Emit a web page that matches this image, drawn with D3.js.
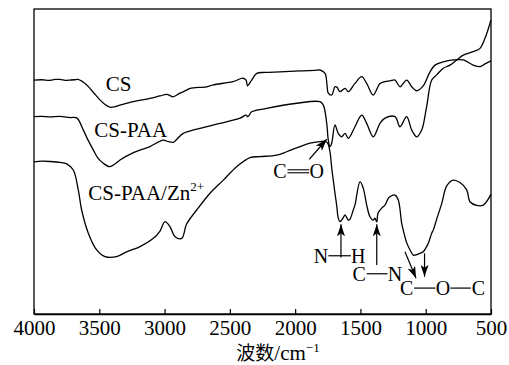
<!DOCTYPE html>
<html>
<head>
<meta charset="utf-8">
<script src="https://cdn.jsdelivr.net/npm/d3@7"></script>
<style>
  html, body { margin: 0; padding: 0; background: #fff; }
  svg { display: block; }
  text { font-family: "Liberation Serif", "Times New Roman", "Noto Sans CJK SC", serif; fill: #000; }
</style>
</head>
<body>
<svg id="chart" width="509" height="365"></svg>
<script>
// ---------------- data (wavenumber cm^-1, transmittance a.u.) ----------------
const xTicks = [4000, 3500, 3000, 2500, 2000, 1500, 1000, 500];
const xTickLabels = ["4000", "3500", "3000", "2500", "2000", "1500", "1000", "500"];
const seriesNames = ["CS", "CS-PAA", "CS-PAA/Zn"];

const csData = [
  [4000,76.7],[3940,76.8],[3877,76.6],[3840,76.9],[3801,76.9],[3760,76.6],[3724,76.7],[3690,76.8],[3663,76.9],
  [3596,75.1],[3548,72.8],[3495,70.2],[3456,68.7],[3418,67.8],[3380,68.0],[3341,68.5],
  [3242,69.6],[3112,70.7],[3035,71.5],[2984,72.0],[2958,71.6],[2936,71.2],[2882,72.4],
  [2831,73.4],[2805,74.0],[2677,74.5],[2629,75.1],[2476,76.2],[2399,77.3],[2376,76.7],
  [2365,74.8],[2353,75.4],[2333,76.7],[2294,78.9],[2231,79.2],[2116,79.4],[1963,79.7],
  [1850,79.9],[1810,80.0],[1771,78.9],[1756,75.1],[1746,72.4],[1720,71.8],[1695,74.5],
  [1680,74.4],[1657,72.9],[1618,74.0],[1593,72.9],[1542,75.6],[1490,77.8],[1452,75.6],
  [1402,71.8],[1350,75.6],[1312,76.2],[1274,76.4],[1235,76.7],[1197,74.5],[1146,76.7],
  [1107,74.5],[1069,73.2],[1019,74.8],[967,79.4],[929,81.6],[865,82.7],[789,83.3],
  [712,83.3],[636,81.6],[584,81.1],[546,82.0],[500,83.0]
];

const csPaaData = [
  [4000,64.7],[3940,64.8],[3877,64.6],[3801,64.8],[3724,64.4],[3673,64.3],[3622,60.3],
  [3586,57.0],[3546,53.8],[3510,51.1],[3469,49.4],[3418,48.3],[3380,49.2],[3341,50.5],
  [3242,52.8],[3112,54.9],[3010,57.0],[2971,56.5],[2933,56.3],[2897,57.7],[2857,59.2],
  [2729,60.9],[2576,62.5],[2422,64.2],[2376,65.2],[2363,64.7],[2353,65.1],[2333,66.3],
  [2218,67.4],[1988,69.1],[1810,69.6],[1784,68.5],[1758,62.5],[1746,57.0],[1733,54.9],
  [1720,56.0],[1695,62.0],[1670,59.2],[1644,58.1],[1618,59.2],[1593,57.6],[1542,61.4],
  [1490,65.2],[1452,62.5],[1402,58.1],[1350,62.5],[1312,64.2],[1235,64.7],[1197,61.4],
  [1146,64.7],[1107,60.3],[1069,58.1],[1031,60.3],[993,68.0],[954,76.7],[916,78.4],
  [865,80.6],[814,81.6],[763,83.3],[712,84.9],[636,86.0],[584,87.1],[546,90.4],[500,96.4]
];

const csPaaZnData = [
  [4000,49.9],[3940,50.1],[3877,50.0],[3801,49.7],[3750,49.2],[3699,47.2],[3661,40.7],
  [3635,34.1],[3584,26.5],[3520,21.0],[3456,18.8],[3367,18.8],[3290,20.4],[3188,22.1],
  [3086,24.8],[3035,27.2],[2997,30.3],[2958,28.6],[2920,25.3],[2869,24.8],[2831,29.5],
  [2754,34.1],[2652,39.6],[2550,43.9],[2448,48.3],[2346,51.3],[2269,51.6],[2141,52.1],
  [2065,53.2],[1963,54.9],[1886,56.0],[1810,56.5],[1771,56.6],[1752,56.1],[1733,53.1],
  [1720,47.9],[1708,43.9],[1695,39.6],[1682,35.7],[1670,31.5],[1657,30.3],[1644,30.8],
  [1631,31.6],[1618,32.5],[1593,30.8],[1580,31.1],[1555,34.1],[1542,35.7],[1503,43.4],
  [1478,41.2],[1452,35.7],[1427,31.9],[1402,30.8],[1389,31.4],[1375,30.2],[1365,33.1],
  [1337,34.7],[1312,35.7],[1287,37.9],[1266,38.7],[1235,39.0],[1210,37.4],[1184,29.7],
  [1172,27.5],[1146,23.4],[1120,21.0],[1095,19.3],[1067,19.5],[1044,19.9],[1019,20.4],
  [993,22.1],[980,23.2],[954,26.5],[942,27.5],[916,31.1],[878,36.1],[839,42.0],
  [789,43.9],[738,43.1],[686,40.7],[661,36.8],[610,35.6],[559,35.7],[500,39.3]
];

// annotation groups: atoms with wavenumber centres, baseline in transmittance units
const bondGroups = [
  { atoms: ["C", "O"], wn: [2116, 1835], t: 44.5, bond: "double" },
  { atoms: ["N", "H"], wn: [1803, 1516], t: 16.8, bond: "single" },
  { atoms: ["C", "N"], wn: [1509, 1235], t: 10.9, bond: "single" },
  { atoms: ["C", "O", "C"], wn: [1146, 868, 597], t: 6.2, bond: "single" }
];
// arrows: [wn0, t0] -> [wn1, t1] (tip)
const arrows = [
  [[1892, 50.7], [1758, 57.3]],
  [[1649, 18.5], [1649, 29.4]],
  [[1375, 16.1], [1375, 29.4]],
  [[1159, 20.4], [1074, 11.7]],
  [[1009, 19.9], [1009, 12.2]]
];
// series label anchors [wn, t]
const labelPos = [[3450, 73.2], [3538, 58.1], [3584, 37.4]];

// ---------------- drawing ----------------
const W = 509, H = 365;
const margin = { left: 34, top: 9, right: 18, bottom: 51 };
const svg = d3.select("#chart");
const x = d3.scaleLinear().domain([4000, 500]).range([margin.left, W - margin.right]);
const y = d3.scaleLinear().domain([0, 100]).range([H - margin.bottom, margin.top]);

const defs = svg.append("defs");
defs.append("marker")
  .attr("id", "ah").attr("viewBox", "0 0 12 8")
  .attr("refX", 12).attr("refY", 4)
  .attr("markerWidth", 12).attr("markerHeight", 8)
  .attr("markerUnits", "userSpaceOnUse")
  .attr("orient", "auto")
  .append("path").attr("d", "M0,0 L12,4 L0,8 L3,4 Z").attr("fill", "#000");

// frame
svg.append("rect")
  .attr("x", x(4000)).attr("y", y(100))
  .attr("width", x(500) - x(4000)).attr("height", y(0) - y(100))
  .attr("fill", "none").attr("stroke", "#000").attr("stroke-width", 1.3);

// bottom axis
const axis = d3.axisBottom(x)
  .tickValues(xTicks)
  .tickFormat((d, i) => xTickLabels[i])
  .tickSize(-5).tickSizeOuter(0).tickPadding(6);
const gx = svg.append("g").attr("transform", `translate(0,${y(0)})`).call(axis);
gx.select(".domain").attr("stroke", "#000").attr("stroke-width", 1.3);
gx.selectAll(".tick line").attr("stroke", "#000").attr("stroke-width", 1.2);
gx.selectAll(".tick text")
  .style("font-family", '"Liberation Serif", "Times New Roman", serif')
  .style("font-size", "21px").attr("fill", "#000");

// axis title
const title = svg.append("text")
  .attr("x", 278).attr("y", 360)
  .attr("text-anchor", "middle")
  .style("font-size", "21px");
title.append("tspan").text("波数").style("font-family", '"Noto Sans CJK SC", sans-serif').style("font-size", "19px");
title.append("tspan").text("/cm");
title.append("tspan").text("−1").attr("dy", -8).style("font-size", "13px");

// curves
const line = d3.line()
  .x(d => x(d[0])).y(d => y(d[1]))
  .curve(d3.curveCatmullRom.alpha(0.5));
[csData, csPaaData, csPaaZnData].forEach(data => {
  svg.append("path").datum(data)
    .attr("d", line)
    .attr("fill", "none").attr("stroke", "#000")
    .attr("stroke-width", 1.3).attr("stroke-linejoin", "round");
});

// series labels
seriesNames.forEach((name, i) => {
  const t = svg.append("text")
    .attr("x", x(labelPos[i][0])).attr("y", y(labelPos[i][1]))
    .style("font-size", "21px").text(name);
  if (i === 2) {
    t.append("tspan").text("2+").attr("dy", -9).style("font-size", "13px");
  }
});

// bond labels
const half = 7.5;
bondGroups.forEach(g => {
  const by = y(g.t);
  g.atoms.forEach((a, i) => {
    svg.append("text").attr("x", x(g.wn[i])).attr("y", by)
      .attr("text-anchor", "middle").style("font-size", "20px").text(a);
    if (i > 0) {
      const x0 = x(g.wn[i - 1]) + half, x1 = x(g.wn[i]) - half;
      const ym = by - 7;
      if (g.bond === "double") {
        [-1.5, 1.5].forEach(off => {
          svg.append("line").attr("x1", x0).attr("x2", x1)
            .attr("y1", ym + off).attr("y2", ym + off)
            .attr("stroke", "#000").attr("stroke-width", 1.1);
        });
      } else {
        svg.append("line").attr("x1", x0).attr("x2", x1)
          .attr("y1", ym).attr("y2", ym)
          .attr("stroke", "#000").attr("stroke-width", 1.2);
      }
    }
  });
});

// arrows
arrows.forEach(a => {
  svg.append("line")
    .attr("x1", x(a[0][0])).attr("y1", y(a[0][1]))
    .attr("x2", x(a[1][0])).attr("y2", y(a[1][1]))
    .attr("stroke", "#000").attr("stroke-width", 1.2)
    .attr("marker-end", "url(#ah)");
});
</script>
</body>
</html>
